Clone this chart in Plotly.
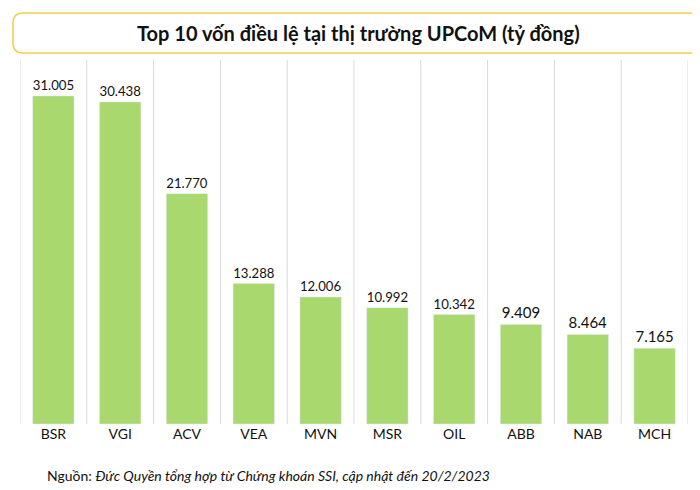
import plotly.graph_objects as go

categories = ["BSR", "VGI", "ACV", "VEA", "MVN", "MSR", "OIL", "ABB", "NAB", "MCH"]
values = [31005, 30438, 21770, 13288, 12006, 10992, 10342, 9409, 8464, 7165]
labels = ["31.005", "30.438", "21.770", "13.288", "12.006", "10.992", "10.342", "9.409", "8.464", "7.165"]

fig = go.Figure(go.Bar(
    x=categories, y=values, text=labels, textposition="outside",
    marker_color="#a9d86e", width=0.62,
    textfont=dict(size=15, color="#111", family="Lato"),
    cliponaxis=False,
))

W, H = 700, 490
ml, mr, mt, mb = 12, 20, 52, 74
pw, ph = W - ml - mr, H - mt - mb
def px(x): return (x - ml) / pw
def py(y): return 1 - (y - mt) / ph

shapes = []
for i in range(len(categories) + 1):
    shapes.append(dict(type="line", xref="x", yref="paper", x0=i - 0.5, x1=i - 0.5,
                       y0=0, y1=1, line=dict(color="#d9d9d9", width=1)))
x0, x1, y0, y1, r = 5, 695, 5, 45, 10
path = (f"M {px(x0+r)},{py(y0)} L {px(x1-r)},{py(y0)} Q {px(x1)},{py(y0)} {px(x1)},{py(y0+r)} "
        f"L {px(x1)},{py(y1-r)} Q {px(x1)},{py(y1)} {px(x1-r)},{py(y1)} L {px(x0+r)},{py(y1)} "
        f"Q {px(x0)},{py(y1)} {px(x0)},{py(y1-r)} L {px(x0)},{py(y0+r)} Q {px(x0)},{py(y0)} {px(x0+r)},{py(y0)} Z")
shapes.append(dict(type="path", xref="paper", yref="paper", path=path,
                   line=dict(color="#f2cf4a", width=1.5), fillcolor="white", layer="below"))

fig.update_layout(
    width=W, height=H, margin=dict(l=ml, r=mr, t=mt, b=mb, autoexpand=False),
    paper_bgcolor="white", plot_bgcolor="white", showlegend=False,
    font=dict(family="Lato", color="#111"),
    shapes=shapes,
    xaxis=dict(tickfont=dict(size=14), showgrid=False, showline=False, ticks="",
               range=[-0.5, 9.5]),
    yaxis=dict(visible=False, range=[0, 34400]),
    annotations=[
        dict(text="<b>Top 10 vốn điều lệ tại thị trường UPCoM (tỷ đồng)</b>", xref="paper", yref="paper",
             x=px(350), y=py(25), showarrow=False, font=dict(size=20, family="Lato"), xanchor="center", yanchor="middle"),
        dict(text="Nguồn: <i>Đức Quyền tổng hợp từ Chứng khoán SSI, cập nhật đến 20/2/2023</i>", xref="paper", yref="paper",
             x=px(37), y=py(467), showarrow=False, font=dict(size=14, family="Lato"), xanchor="left", yanchor="middle"),
    ],
)
fig.write_html("out.html")
